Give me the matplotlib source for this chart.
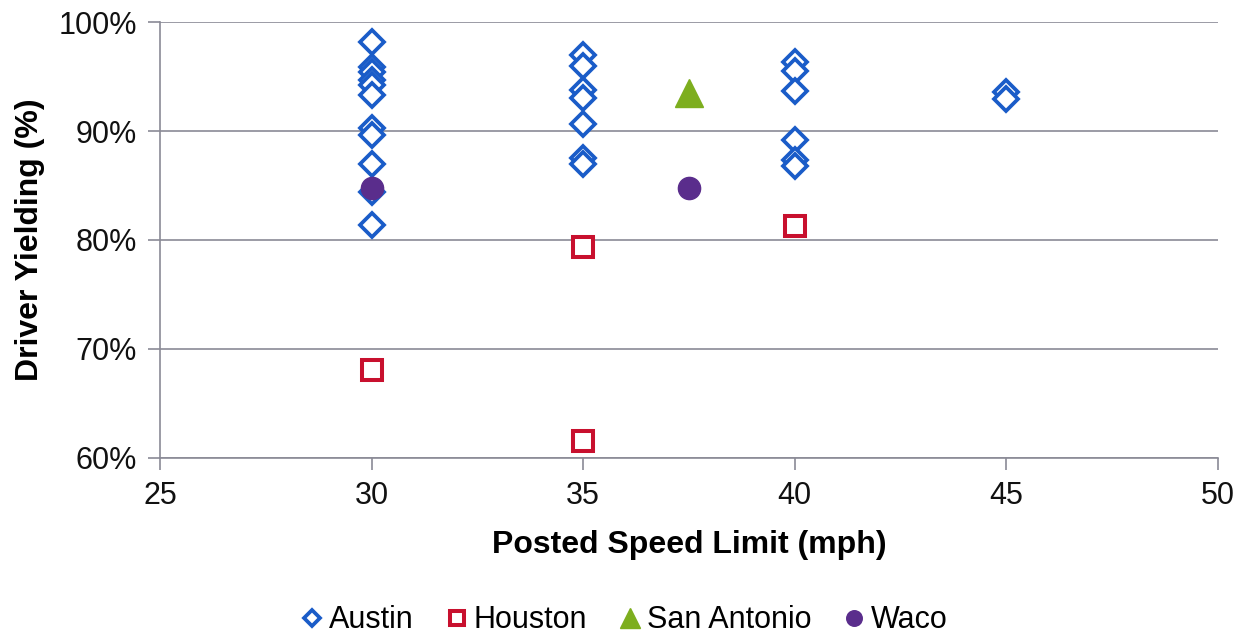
import matplotlib
matplotlib.use("Agg")
import matplotlib.pyplot as plt
from matplotlib.ticker import FuncFormatter

plt.rcParams['font.family'] = ['Liberation Sans', 'DejaVu Sans']

austin_x = [30, 30, 30, 30, 30, 30, 30, 30, 30, 30, 30,
            35, 35, 35, 35, 35, 35, 35,
            40, 40, 40, 40, 40, 40,
            45, 45]
austin_y = [98.2, 95.9, 95.4, 94.7, 94.2, 93.3, 90.3, 89.6, 87.0, 84.4, 81.4,
            97.0, 96.0, 93.8, 93.0, 90.6, 87.5, 87.0,
            96.3, 95.5, 93.7, 89.2, 87.3, 86.8,
            93.6, 92.9]
houston_x = [30, 35, 35, 40]
houston_y = [68.1, 79.4, 61.6, 81.3]
sa_x = [37.5]
sa_y = [93.5]
waco_x = [30, 37.5]
waco_y = [84.8, 84.8]

x_ticks = [25, 30, 35, 40, 45, 50]
y_ticks = [60, 70, 80, 90, 100]

fig = plt.figure(figsize=(12.52, 6.36), dpi=100)
ax = fig.add_axes([0.1278, 0.2799, 0.8450, 0.6855])

ax.plot(austin_x, austin_y, linestyle='none', marker='D', markersize=12,
        markerfacecolor='white', markeredgecolor='#1A5CC8', markeredgewidth=2.7,
        label='Austin', zorder=3)
ax.plot(houston_x, houston_y, linestyle='none', marker='s', markersize=15,
        markerfacecolor='white', markeredgecolor='#C8102E', markeredgewidth=2.9,
        label='Houston', zorder=3)
ax.plot(sa_x, sa_y, linestyle='none', marker='^', markersize=20,
        markerfacecolor='#7DAE1E', markeredgecolor='#7DAE1E',
        label='San Antonio', zorder=4)
ax.plot(waco_x, waco_y, linestyle='none', marker='o', markersize=16,
        markerfacecolor='#5A2D8C', markeredgecolor='#5A2D8C',
        label='Waco', zorder=5)

ax.set_xlim(25, 50)
ax.set_ylim(60, 100)
ax.set_xticks(x_ticks)
ax.set_yticks(y_ticks)
ax.yaxis.set_major_formatter(FuncFormatter(lambda v, p: f"{int(v)}%"))
ax.grid(axis='y', color='#8a8a96', linewidth=1.2)
ax.set_axisbelow(True)
for s in ['top', 'right']:
    ax.spines[s].set_visible(False)
for s in ['left', 'bottom']:
    ax.spines[s].set_color('#8a8a96')
    ax.spines[s].set_linewidth(1.2)
ax.tick_params(axis='both', colors='#8a8a96', labelcolor='#111111',
               labelsize=22, length=8.5, width=1.2, direction='out')
ax.tick_params(axis='x', pad=8)
ax.tick_params(axis='y', pad=8)

ax.set_xlabel('Posted Speed Limit (mph)', fontsize=23, fontweight='bold', labelpad=14)
ax.set_ylabel('Driver Yielding (%)', fontsize=23, fontweight='bold', labelpad=10)

fig.legend(loc='lower center', bbox_to_anchor=(0.497, -0.042), ncol=4, frameon=False,
           fontsize=22, handletextpad=0.05, columnspacing=0.9, handlelength=1.0,
           markerscale=0.7)

fig.savefig('out.png', dpi=100)
